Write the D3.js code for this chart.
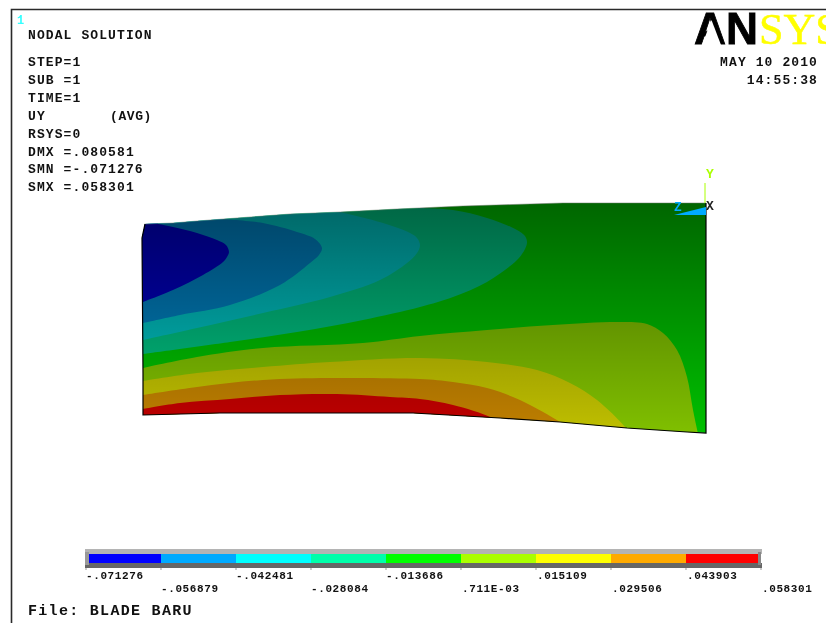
<!DOCTYPE html>
<html>
<head>
<meta charset="utf-8">
<script src="https://cdn.jsdelivr.net/npm/d3@7"></script>
<style>
  html, body { margin: 0; padding: 0; background: #fff; overflow: hidden; }
  svg { display: block; filter: blur(0.35px); }
  text { font-family: "Liberation Mono", monospace; font-weight: bold; fill: #111; }
</style>
</head>
<body>
<svg id="chart" width="826" height="623"></svg>
<script>
// Nodal UY levels from the legend
const levels = [-.071276, -.056879, -.042481, -.028084, -.013686, .000711, .015109, .029506, .043903, .058301];
const levelLabels = ["-.071276", "-.056879", "-.042481", "-.028084", "-.013686", ".711E-03", ".015109", ".029506", ".043903", ".058301"];
const bandColors = ["#0000ff", "#00aaff", "#00ffff", "#00ffaa", "#00ff00", "#aaff00", "#ffff00", "#ffaa00", "#ff0000"];

const headerLines = ["STEP=1", "SUB =1", "TIME=1", "UY", "RSYS=0", "DMX =.080581", "SMN =-.071276", "SMX =.058301"];

// Blade outline, model units (x along the span, y up from the tip corner)
const topEdge = [[2, 209], [30, 210], [54, 212], [94, 215], [147, 219], [197, 221], [254, 224], [320, 227], [420, 230], [563, 230]];
const bottomEdge = [[563, 0], [544, 1], [484, 5], [417, 11], [357, 15], [305, 18], [270, 20], [197, 20], [77, 20], [0, 18]];
const leftEdge = [[0, 18], [0, 60], [-1, 195], [2, 209]];

// Contours above the green band, from the mid level towards the minimum
const upperContours = [
  { band: 3, points: [[277, 225], [310, 223], [344, 215], [374, 203], [382, 197], [384, 191], [382, 184], [374, 173], [344, 151], [310, 136], [277, 126], [220, 113], [154, 101], [87, 91], [0, 79]] },
  { band: 2, points: [[197, 221], [240, 210], [267, 200], [274, 195], [277, 188], [274, 180], [264, 170], [237, 153], [187, 136], [120, 120], [54, 105], [0, 93]] },
  { band: 1, points: [[77, 214], [120, 210], [154, 201], [172, 194], [179, 185], [176, 178], [167, 170], [137, 148], [87, 128], [37, 118], [0, 110]] },
  { band: 0, points: [[15, 209], [30, 206], [54, 200], [74, 193], [83, 188], [86, 181], [84, 176], [80, 171], [60, 158], [30, 143], [0, 131]] }
];

// Contours below the green band, from the mid level towards the maximum
const lowerContours = [
  { band: 5, points: [[0, 65], [54, 76], [120, 85], [220, 90], [277, 97], [344, 103], [410, 108], [477, 111], [504, 109], [520, 100], [534, 83], [544, 56], [550, 23], [556, -5]] },
  { band: 6, points: [[0, 52], [54, 60], [120, 66], [187, 71], [277, 75], [344, 71], [394, 63], [427, 50], [454, 33], [482, 6], [490, -5]] },
  { band: 7, points: [[0, 38], [54, 46], [120, 53], [187, 55], [277, 54], [310, 51], [344, 45], [377, 33], [417, 11], [425, 5]] },
  { band: 8, points: [[0, 24], [37, 30], [87, 34], [137, 38], [194, 39], [247, 36], [277, 34], [310, 28], [347, 16], [355, 10]] }
];

const width = 826, height = 623;
const svg = d3.select("#chart");

const x = d3.scaleLinear([0, 563], [143, 706]);
const y = d3.scaleLinear([0, 230], [433, 203]);
const legendX = d3.scaleLinear([levels[0], levels[levels.length - 1]], [86, 761]);

const line = d3.line().x(d => x(d[0])).y(d => y(d[1]));
const contourLine = d3.line().x(d => x(d[0])).y(d => y(d[1])).curve(d3.curveCatmullRom.alpha(0.5));

// Frame
svg.append("path").attr("d", `M${width},9.5H11.5V${height}`)
  .attr("fill", "none").attr("stroke", "#2a2a2a").attr("stroke-width", 1.6);

// Header
svg.append("text").attr("x", 17).attr("y", 24).attr("font-size", 12).style("fill", "#33ffff").text("1");
const textStyle = (sel, size, spacing) => sel.attr("font-size", size).attr("letter-spacing", spacing);
svg.append("text").attr("x", 28).attr("y", 39).call(textStyle, 13, 1.1).text("NODAL SOLUTION");
svg.selectAll("text.head").data(headerLines).join("text").attr("class", "head")
  .attr("x", 28).attr("y", (d, i) => 66 + i * 17.9).call(textStyle, 13, 1.1).text(d => d);
svg.append("text").attr("x", 110).attr("y", 119.7).call(textStyle, 13, 0.6).text("(AVG)");

// Logo
svg.append("text").attr("x", 694).attr("y", 44).attr("font-size", 45).attr("textLength", 64)
  .attr("lengthAdjust", "spacingAndGlyphs").style("font-family", "Liberation Sans").style("fill", "#000")
  .style("stroke", "#000").style("stroke-width", 0.8).text("AN");
// the logo's A has no crossbar
svg.append("path").attr("d", "M711.5,20L702,45H721Z").attr("fill", "#fff");
svg.append("text").attr("x", 759).attr("y", 44).attr("font-size", 44)
  .style("font-family", "Liberation Serif").style("font-weight", "normal").style("fill", "#ffff00")
  .style("stroke", "#ffff00").style("stroke-width", 0.5).text("SYS");

svg.append("text").attr("x", 818).attr("y", 66).attr("text-anchor", "end").call(textStyle, 13, 1.1).text("MAY 10 2010");
svg.append("text").attr("x", 818).attr("y", 84).attr("text-anchor", "end").call(textStyle, 13, 1.1).text("14:55:38");

// Blade
const outline = [...topEdge, ...bottomEdge, ...leftEdge];
const defs = svg.append("defs");
defs.append("clipPath").attr("id", "blade").append("path").attr("d", line(outline) + "Z");

const shade = defs.append("linearGradient").attr("id", "shade").attr("gradientUnits", "userSpaceOnUse")
  .attr("x1", 0).attr("x2", 0).attr("y1", y(230)).attr("y2", y(0));
shade.append("stop").attr("offset", 0).attr("stop-color", "#000").attr("stop-opacity", 0.6);
shade.append("stop").attr("offset", 1).attr("stop-color", "#000").attr("stop-opacity", 0.25);

const blade = svg.append("g").attr("clip-path", "url(#blade)");
blade.append("path").attr("d", line(outline) + "Z").attr("fill", bandColors[4]);

// each contour is closed around the corner of the blade it encloses
blade.selectAll("path.upper").data(upperContours).join("path").attr("class", "upper")
  .attr("fill", d => bandColors[d.band])
  .attr("d", d => contourLine(d.points) + `L${x(-20)},${y(d.points[d.points.length - 1][1])}L${x(-20)},${y(260)}L${x(d.points[0][0])},${y(260)}Z`);
blade.selectAll("path.lower").data(lowerContours).join("path").attr("class", "lower")
  .attr("fill", d => bandColors[d.band])
  .attr("d", d => contourLine(d.points) + `L${x(d.points[d.points.length - 1][0])},${y(-20)}L${x(-20)},${y(-20)}L${x(-20)},${y(d.points[0][1])}Z`);

blade.append("rect").attr("x", x(-10)).attr("y", y(240)).attr("width", x(580) - x(-10)).attr("height", y(-10) - y(240))
  .attr("fill", "url(#shade)");

// Outline: heavy on the sides and bottom, barely there along the top
svg.append("path").attr("d", line(topEdge)).attr("fill", "none").attr("stroke", "#667766").attr("stroke-width", 0.5);
svg.append("path").attr("d", line([[563, 230], ...bottomEdge, ...leftEdge])).attr("fill", "none").attr("stroke", "#000").attr("stroke-width", 1.2);

// Triad
svg.append("path").attr("d", `M${x(562)},${y(230)}V${y(250)}`).attr("stroke", "#aaff00").attr("stroke-width", 1);
svg.append("path").attr("d", line([[531, 218], [563, 226], [563, 218]]) + "Z").attr("fill", "#00aaff");
svg.append("text").attr("x", 706).attr("y", 178).attr("font-size", 13).style("fill", "#aaff00").text("Y");
svg.append("text").attr("x", 706).attr("y", 210).attr("font-size", 13).style("fill", "#222").text("X");
svg.append("text").attr("x", 674).attr("y", 211).attr("font-size", 13).style("fill", "#00aaff").text("Z");

// Legend
const legend = svg.append("g");
legend.append("rect").attr("x", legendX(levels[0]) - 1).attr("y", 549).attr("width", 677).attr("height", 5).attr("fill", "#b4b4b4");
legend.append("rect").attr("x", legendX(levels[0]) - 1).attr("y", 563).attr("width", 677).attr("height", 5).attr("fill", "#666");
legend.selectAll("rect.band").data(bandColors).join("rect").attr("class", "band")
  .attr("x", (d, i) => legendX(levels[i]))
  .attr("width", (d, i) => legendX(levels[i + 1]) - legendX(levels[i]))
  .attr("y", 554).attr("height", 9).attr("fill", d => d);
legend.append("rect").attr("x", legendX(levels[0]) - 1).attr("y", 552).attr("width", 4).attr("height", 13).attr("fill", "#999");
legend.append("rect").attr("x", 758).attr("y", 552).attr("width", 3).attr("height", 13).attr("fill", "#888");
legend.selectAll("line").data(levels).join("line")
  .attr("x1", d => legendX(d)).attr("x2", d => legendX(d)).attr("y1", 568).attr("y2", 570)
  .attr("stroke", "#999").attr("stroke-width", 1);
legend.selectAll("text").data(levelLabels).join("text")
  .attr("x", (d, i) => legendX(levels[i]) + (i >= 5 ? 1 : 0))
  .attr("y", (d, i) => i % 2 ? 592 : 579)
  .call(textStyle, 11, 0.6).text(d => d);

svg.append("text").attr("x", 28).attr("y", 615).call(textStyle, 15, 1.3).text("File: BLADE BARU");
</script>
</body>
</html>
